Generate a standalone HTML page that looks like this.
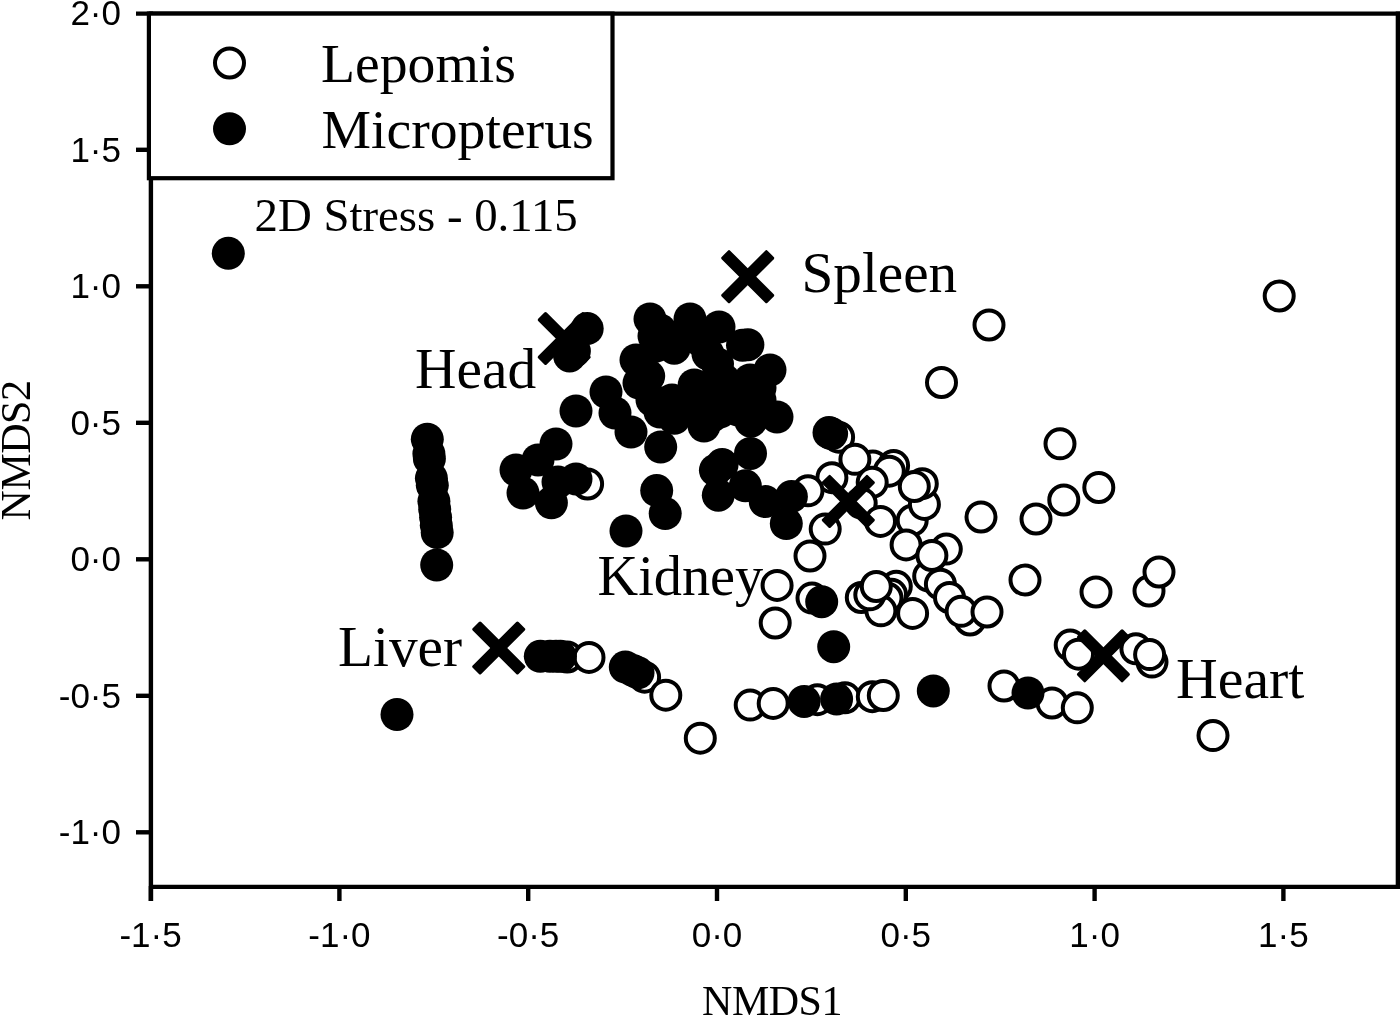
<!DOCTYPE html>
<html><head><meta charset="utf-8"><title>NMDS</title>
<style>
html,body{margin:0;padding:0;background:#fff;}
svg{display:block;}
.ser{font-family:"Liberation Serif",serif;fill:#000;}
.san{font-family:"Liberation Sans",sans-serif;fill:#000;font-size:35px;}
</style></head><body>
<svg width="1400" height="1016" viewBox="0 0 1400 1016">
<rect width="1400" height="1016" fill="#fff"/>

<g fill="#fff" stroke="#000" stroke-width="4.0">
<circle cx="587.6" cy="484.0" r="14.5"/>
<circle cx="838.6" cy="437.2" r="14.5"/>
<circle cx="872.8" cy="466.0" r="14.5"/>
<circle cx="893.6" cy="465.6" r="14.5"/>
<circle cx="889.3" cy="471.2" r="14.5"/>
<circle cx="854.9" cy="459.3" r="14.5"/>
<circle cx="831.9" cy="477.7" r="14.5"/>
<circle cx="808.0" cy="490.8" r="14.5"/>
<circle cx="872.2" cy="482.3" r="14.5"/>
<circle cx="861.2" cy="503.2" r="14.5"/>
<circle cx="912.2" cy="520.3" r="14.5"/>
<circle cx="924.4" cy="504.4" r="14.5"/>
<circle cx="922.3" cy="483.7" r="14.5"/>
<circle cx="914.3" cy="486.5" r="14.5"/>
<circle cx="880.5" cy="521.4" r="14.5"/>
<circle cx="825.2" cy="529.1" r="14.5"/>
<circle cx="810.0" cy="556.0" r="14.5"/>
<circle cx="906.1" cy="544.9" r="14.5"/>
<circle cx="928.7" cy="576.2" r="14.5"/>
<circle cx="940.4" cy="584.2" r="14.5"/>
<circle cx="949.5" cy="597.5" r="14.5"/>
<circle cx="946.3" cy="549.1" r="14.5"/>
<circle cx="931.9" cy="555.5" r="14.5"/>
<circle cx="981.0" cy="517.0" r="14.5"/>
<circle cx="1036.0" cy="519.0" r="14.5"/>
<circle cx="1060.0" cy="443.8" r="14.5"/>
<circle cx="1063.8" cy="500.0" r="14.5"/>
<circle cx="1098.8" cy="487.5" r="14.5"/>
<circle cx="1025.0" cy="580.0" r="14.5"/>
<circle cx="970.0" cy="620.0" r="14.5"/>
<circle cx="961.1" cy="611.3" r="14.5"/>
<circle cx="987.0" cy="612.0" r="14.5"/>
<circle cx="861.3" cy="597.5" r="14.5"/>
<circle cx="896.3" cy="586.3" r="14.5"/>
<circle cx="891.5" cy="594.3" r="14.5"/>
<circle cx="887.0" cy="598.0" r="14.5"/>
<circle cx="880.9" cy="610.8" r="14.5"/>
<circle cx="869.8" cy="594.8" r="14.5"/>
<circle cx="876.3" cy="586.5" r="14.5"/>
<circle cx="912.6" cy="613.4" r="14.5"/>
<circle cx="777.1" cy="585.4" r="14.5"/>
<circle cx="775.2" cy="623.0" r="14.5"/>
<circle cx="812.0" cy="598.1" r="14.5"/>
<circle cx="750.2" cy="705.1" r="14.5"/>
<circle cx="773.2" cy="703.4" r="14.5"/>
<circle cx="817.4" cy="699.7" r="14.5"/>
<circle cx="845.0" cy="697.8" r="14.5"/>
<circle cx="872.3" cy="696.7" r="14.5"/>
<circle cx="883.3" cy="695.5" r="14.5"/>
<circle cx="1004.0" cy="686.0" r="14.5"/>
<circle cx="1052.0" cy="703.0" r="14.5"/>
<circle cx="1077.3" cy="707.8" r="14.5"/>
<circle cx="1096.0" cy="592.0" r="14.5"/>
<circle cx="1149.0" cy="591.0" r="14.5"/>
<circle cx="1159.0" cy="572.0" r="14.5"/>
<circle cx="1070.2" cy="645.1" r="14.5"/>
<circle cx="1078.5" cy="654.2" r="14.5"/>
<circle cx="1135.9" cy="648.8" r="14.5"/>
<circle cx="1152.0" cy="662.1" r="14.5"/>
<circle cx="1149.6" cy="654.6" r="14.5"/>
<circle cx="1213.0" cy="735.6" r="14.5"/>
<circle cx="1279.2" cy="296.0" r="14.5"/>
<circle cx="989.0" cy="325.0" r="14.5"/>
<circle cx="941.5" cy="382.5" r="14.5"/>
<circle cx="567.2" cy="657.0" r="14.5"/>
<circle cx="589.0" cy="657.4" r="14.5"/>
<circle cx="644.6" cy="677.2" r="14.5"/>
<circle cx="665.8" cy="695.2" r="14.5"/>
<circle cx="700.3" cy="738.2" r="14.5"/>
</g>
<g fill="#000">
<circle cx="228.3" cy="253.3" r="16.5"/>
<circle cx="587.2" cy="328.6" r="16.5"/>
<circle cx="569.6" cy="355.9" r="16.5"/>
<circle cx="574.4" cy="351.1" r="16.5"/>
<circle cx="650.0" cy="319.0" r="16.5"/>
<circle cx="660.0" cy="330.0" r="16.5"/>
<circle cx="656.0" cy="346.0" r="16.5"/>
<circle cx="648.7" cy="376.1" r="16.5"/>
<circle cx="690.0" cy="319.0" r="16.5"/>
<circle cx="719.0" cy="327.0" r="16.5"/>
<circle cx="747.9" cy="344.7" r="16.5"/>
<circle cx="742.5" cy="345.2" r="16.5"/>
<circle cx="770.0" cy="370.0" r="16.5"/>
<circle cx="636.0" cy="360.0" r="16.5"/>
<circle cx="674.2" cy="348.2" r="16.5"/>
<circle cx="708.0" cy="354.0" r="16.5"/>
<circle cx="717.5" cy="364.0" r="16.5"/>
<circle cx="639.0" cy="383.0" r="16.5"/>
<circle cx="694.2" cy="384.9" r="16.5"/>
<circle cx="652.0" cy="400.0" r="16.5"/>
<circle cx="660.0" cy="412.0" r="16.5"/>
<circle cx="674.3" cy="418.3" r="16.5"/>
<circle cx="688.0" cy="404.0" r="16.5"/>
<circle cx="704.0" cy="426.0" r="16.5"/>
<circle cx="720.0" cy="412.0" r="16.5"/>
<circle cx="730.0" cy="392.0" r="16.5"/>
<circle cx="750.0" cy="380.0" r="16.5"/>
<circle cx="654.0" cy="336.0" r="16.5"/>
<circle cx="684.0" cy="336.0" r="16.5"/>
<circle cx="700.0" cy="340.0" r="16.5"/>
<circle cx="700.0" cy="400.0" r="16.5"/>
<circle cx="716.0" cy="392.0" r="16.5"/>
<circle cx="734.0" cy="408.0" r="16.5"/>
<circle cx="740.0" cy="396.0" r="16.5"/>
<circle cx="724.0" cy="380.0" r="16.5"/>
<circle cx="680.0" cy="408.0" r="16.5"/>
<circle cx="672.0" cy="400.0" r="16.5"/>
<circle cx="712.0" cy="416.0" r="16.5"/>
<circle cx="738.0" cy="410.0" r="16.5"/>
<circle cx="760.0" cy="388.0" r="16.5"/>
<circle cx="760.0" cy="400.0" r="16.5"/>
<circle cx="750.8" cy="421.2" r="16.5"/>
<circle cx="777.0" cy="417.0" r="16.5"/>
<circle cx="660.7" cy="447.0" r="16.5"/>
<circle cx="750.5" cy="453.4" r="16.5"/>
<circle cx="722.1" cy="464.6" r="16.5"/>
<circle cx="715.4" cy="470.2" r="16.5"/>
<circle cx="606.0" cy="392.0" r="16.5"/>
<circle cx="576.0" cy="411.0" r="16.5"/>
<circle cx="615.0" cy="413.0" r="16.5"/>
<circle cx="631.0" cy="432.0" r="16.5"/>
<circle cx="556.0" cy="444.0" r="16.5"/>
<circle cx="538.0" cy="460.0" r="16.5"/>
<circle cx="516.0" cy="470.0" r="16.5"/>
<circle cx="427.3" cy="439.2" r="16.5"/>
<circle cx="428.9" cy="453.8" r="16.5"/>
<circle cx="429.4" cy="458.7" r="16.5"/>
<circle cx="431.4" cy="478.2" r="16.5"/>
<circle cx="432.3" cy="485.3" r="16.5"/>
<circle cx="433.9" cy="501.2" r="16.5"/>
<circle cx="434.7" cy="509.2" r="16.5"/>
<circle cx="435.6" cy="517.2" r="16.5"/>
<circle cx="436.3" cy="525.2" r="16.5"/>
<circle cx="437.2" cy="532.6" r="16.5"/>
<circle cx="436.7" cy="565.0" r="16.5"/>
<circle cx="523.0" cy="493.0" r="16.5"/>
<circle cx="551.4" cy="502.8" r="16.5"/>
<circle cx="558.0" cy="482.0" r="16.5"/>
<circle cx="576.0" cy="479.0" r="16.5"/>
<circle cx="656.7" cy="490.6" r="16.5"/>
<circle cx="665.2" cy="513.6" r="16.5"/>
<circle cx="626.0" cy="531.0" r="16.5"/>
<circle cx="718.3" cy="495.2" r="16.5"/>
<circle cx="745.3" cy="485.8" r="16.5"/>
<circle cx="765.2" cy="501.6" r="16.5"/>
<circle cx="791.4" cy="496.6" r="16.5"/>
<circle cx="786.3" cy="523.6" r="16.5"/>
<circle cx="829.0" cy="432.6" r="16.5"/>
<circle cx="831.6" cy="433.8" r="16.5"/>
<circle cx="821.7" cy="601.7" r="16.5"/>
<circle cx="833.7" cy="646.7" r="16.5"/>
<circle cx="804.1" cy="701.4" r="16.5"/>
<circle cx="836.6" cy="699.1" r="16.5"/>
<circle cx="933.3" cy="690.9" r="16.5"/>
<circle cx="1028.0" cy="693.0" r="16.5"/>
<circle cx="397.0" cy="714.5" r="16.5"/>
<circle cx="540.3" cy="656.3" r="16.5"/>
<circle cx="550.0" cy="656.3" r="16.5"/>
<circle cx="556.0" cy="656.3" r="16.5"/>
<circle cx="560.4" cy="656.3" r="16.5"/>
<circle cx="625.3" cy="667.1" r="16.5"/>
<circle cx="633.0" cy="670.5" r="16.5"/>
<circle cx="638.0" cy="672.8" r="16.5"/>
</g>
<g fill="#000">
<rect x="-32.4" y="-6.0" width="64.8" height="12.0" rx="1.6" transform="translate(564.20,338.50) rotate(45)"/>
<rect x="-32.4" y="-6.0" width="64.8" height="12.0" rx="1.6" transform="translate(564.20,338.50) rotate(-45)"/>
<rect x="-32.4" y="-6.0" width="64.8" height="12.0" rx="1.6" transform="translate(747.70,276.70) rotate(45)"/>
<rect x="-32.4" y="-6.0" width="64.8" height="12.0" rx="1.6" transform="translate(747.70,276.70) rotate(-45)"/>
<rect x="-32.4" y="-6.0" width="64.8" height="12.0" rx="1.6" transform="translate(848.30,501.40) rotate(45)"/>
<rect x="-32.4" y="-6.0" width="64.8" height="12.0" rx="1.6" transform="translate(848.30,501.40) rotate(-45)"/>
<rect x="-32.4" y="-6.0" width="64.8" height="12.0" rx="1.6" transform="translate(498.75,648.00) rotate(45)"/>
<rect x="-32.4" y="-6.0" width="64.8" height="12.0" rx="1.6" transform="translate(498.75,648.00) rotate(-45)"/>
<rect x="-32.4" y="-6.0" width="64.8" height="12.0" rx="1.6" transform="translate(1103.40,655.80) rotate(45)"/>
<rect x="-32.4" y="-6.0" width="64.8" height="12.0" rx="1.6" transform="translate(1103.40,655.80) rotate(-45)"/>
</g>
<g stroke="#000" stroke-width="4.4" fill="none">
<path d="M150.9 11.4V901"/>
<path d="M136 13.6H1400"/>
<path d="M1397.9 11.4V889"/>
<path d="M150.9 886.9H1400"/>
<path d="M136 149.8H151"/>
<path d="M136 286.3H151"/>
<path d="M136 422.8H151"/>
<path d="M136 559.3H151"/>
<path d="M136 695.8H151"/>
<path d="M136 832.3H151"/>
<path d="M150.9 886V901"/>
<path d="M339.4 886V901"/>
<path d="M528.2 886V901"/>
<path d="M717.0 886V901"/>
<path d="M905.8 886V901"/>
<path d="M1094.6 886V901"/>
<path d="M1283.4 886V901"/>
</g>
<rect x="148.9" y="13.6" width="463.6" height="164.6" fill="#fff" stroke="#000" stroke-width="4.2"/>
<circle cx="229.5" cy="63" r="14.5" fill="#fff" stroke="#000" stroke-width="4.0"/>
<circle cx="229.5" cy="128.75" r="16.5" fill="#000"/>
<text class="ser" x="321" y="82" font-size="55.7">Lepomis</text>
<text class="ser" x="321.5" y="147.5" font-size="55.7">Micropterus</text>
<text class="ser" x="254.5" y="230.8" font-size="46.8">2D Stress - 0.115</text>
<text class="ser" x="415" y="388" font-size="57.4">Head</text>
<text class="ser" x="801.5" y="292" font-size="57.2">Spleen</text>
<text class="ser" x="597.5" y="594.5" font-size="56.3">Kidney</text>
<text class="ser" x="338" y="665.5" font-size="57.3">Liver</text>
<text class="ser" x="1176" y="697.5" font-size="57.8">Heart</text>
<text class="san" x="121" y="25.1" text-anchor="end">2·0</text>
<text class="san" x="121" y="161.6" text-anchor="end">1·5</text>
<text class="san" x="121" y="298.1" text-anchor="end">1·0</text>
<text class="san" x="121" y="434.6" text-anchor="end">0·5</text>
<text class="san" x="121" y="571.1" text-anchor="end">0·0</text>
<text class="san" x="121" y="707.6" text-anchor="end">-0·5</text>
<text class="san" x="121" y="844.1" text-anchor="end">-1·0</text>
<text class="san" x="150.6" y="947.3" text-anchor="middle">-1·5</text>
<text class="san" x="339.4" y="947.3" text-anchor="middle">-1·0</text>
<text class="san" x="528.2" y="947.3" text-anchor="middle">-0·5</text>
<text class="san" x="717.0" y="947.3" text-anchor="middle">0·0</text>
<text class="san" x="905.8" y="947.3" text-anchor="middle">0·5</text>
<text class="san" x="1094.6" y="947.3" text-anchor="middle">1·0</text>
<text class="san" x="1283.4" y="947.3" text-anchor="middle">1·5</text>
<text class="ser" x="772" y="1015" font-size="42" text-anchor="middle" letter-spacing="-0.5">NMDS1</text>
<text class="ser" transform="translate(29.5,450.5) rotate(-90)" font-size="42" text-anchor="middle" letter-spacing="-0.5">NMDS2</text>
</svg></body></html>
